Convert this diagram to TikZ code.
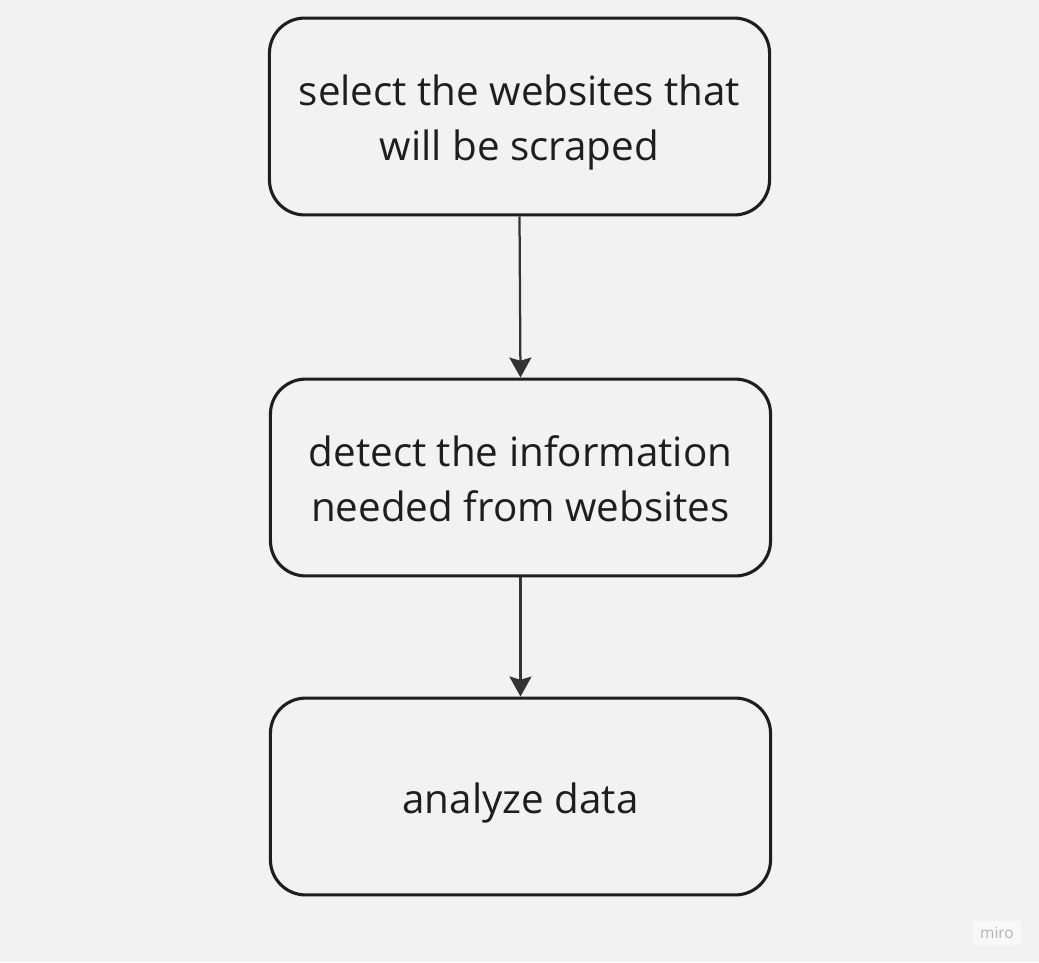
\documentclass[tikz,border=0pt]{standalone}
\usepackage{fontspec}
\setmainfont{Open Sans}
\usetikzlibrary{arrows.meta}
\definecolor{bgcol}{HTML}{F2F2F2}
\definecolor{linecol}{HTML}{1E1E1E}
\definecolor{arrowcol}{HTML}{333333}
\newcommand{\topgap}{\rule{0pt}{30.5pt}}
\newcommand{\botgap}{\rule[-6.9pt]{0pt}{1pt}}
\tikzset{
  stepbox/.style={draw=linecol,line width=2.2pt,rounded corners=0.88cm,
    minimum width=12.5cm,minimum height=4.92cm,align=center,
    font=\fontsize{28.7}{39}\selectfont,text=linecol},
  flow/.style={draw=arrowcol,line width=1.6pt,-{Stealth[length=0.5cm,width=0.55cm,inset=0.08cm]}}
}
\begin{document}
\begin{tikzpicture}[x=0.025cm,y=-0.025cm]
\fill[bgcol](0,0)rectangle(1039,962);
\useasboundingbox(0,0)rectangle(1039,962);
\node[stepbox](select) at (519.5,116.5) {\topgap select the websites that\\will be scraped\botgap};
\node[stepbox](detect) at (520.5,477.5) {\topgap detect the information\\needed from websites\botgap};
\node[stepbox](analyze) at (520.5,796.5) {\topgap analyze data\botgap};
\draw[flow](select.south)--(detect.north);
\draw[flow](detect.south)--(analyze.north);
\node[fill=white,fill opacity=0.5,text opacity=1,text=black!30,font=\fontsize{11}{12}\selectfont,minimum width=1.2cm,minimum height=0.6cm](miro) at (997,933) {miro};
\end{tikzpicture}
\end{document}
